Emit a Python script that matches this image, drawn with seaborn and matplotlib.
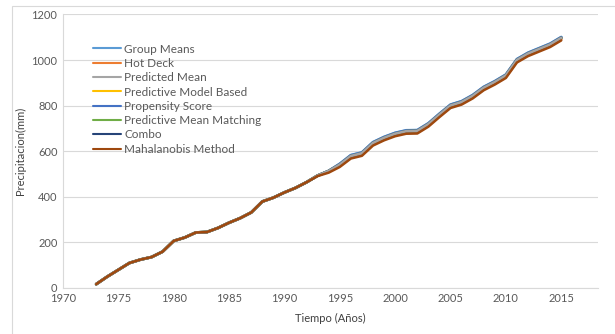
import numpy as np
import pandas as pd
import matplotlib
matplotlib.use('Agg')
import matplotlib.pyplot as plt
import seaborn as sns
from matplotlib.patches import Rectangle

# Years and imputed accumulated precipitation (mm), one list per method
years = list(range(1973, 2016))

group_means = [15, 48, 78, 108, 123, 134, 158, 205, 220, 242, 244, 262, 285, 305, 330, 378, 395, 418, 438, 463,
               492, 512, 544, 582, 594, 639, 662, 680, 691, 692, 722, 764, 804, 819, 846, 882, 907, 936, 1004, 1032,
               1052, 1072, 1101]
hot_deck = [15, 48, 78, 108, 123, 134, 158, 205, 220, 242, 244, 262, 285, 305, 330, 378, 395, 418, 438, 463,
            492, 511, 536, 573, 585, 630, 652, 670, 681, 682, 712, 754, 794, 809, 836, 872, 897, 926, 994, 1022,
            1042, 1062, 1091]
predicted_mean = [15, 48, 78, 108, 123, 134, 158, 205, 220, 242, 244, 262, 285, 305, 330, 378, 395, 418, 438, 463,
                  492, 512, 540, 578, 590, 635, 658, 676, 687, 688, 718, 760, 800, 815, 842, 878, 903, 932, 1000,
                  1028, 1048, 1068, 1097]
predictive_model = [15, 48, 78, 108, 123, 134, 158, 205, 220, 242, 244, 262, 285, 305, 330, 378, 395, 418, 438, 463,
                    492, 512, 540, 578, 590, 635, 658, 676, 687, 688, 718, 760, 800, 815, 842, 878, 903, 932, 1000,
                    1028, 1048, 1068, 1097]
propensity = [15, 48, 78, 108, 123, 134, 158, 205, 220, 242, 244, 262, 285, 305, 330, 378, 395, 418, 438, 463,
              492, 513, 543, 581, 593, 638, 661, 679, 690, 691, 721, 763, 803, 818, 845, 881, 906, 935, 1003, 1031,
              1051, 1071, 1100]
pmm = [15, 48, 78, 108, 123, 134, 158, 205, 220, 242, 244, 262, 285, 305, 330, 378, 395, 418, 438, 463,
       492, 512, 540, 578, 590, 635, 658, 676, 687, 688, 718, 760, 800, 815, 842, 878, 903, 932, 1000,
       1028, 1048, 1068, 1097]
combo = [15, 48, 78, 108, 123, 134, 158, 205, 220, 242, 244, 262, 285, 305, 330, 378, 395, 418, 438, 463,
         492, 512, 540, 578, 590, 635, 658, 676, 687, 688, 718, 760, 800, 815, 842, 878, 903, 932, 1000,
         1028, 1048, 1068, 1097]
mahalanobis = [15, 48, 78, 108, 123, 134, 158, 205, 220, 242, 244, 262, 285, 305, 330, 378, 395, 418, 438, 463,
               490, 505, 530, 567, 579, 624, 647, 665, 676, 677, 707, 749, 789, 804, 831, 867, 892, 921, 989, 1017,
               1037, 1057, 1086]

methods = ["Group Means", "Hot Deck", "Predicted Mean", "Predictive Model Based",
           "Propensity Score", "Predictive Mean Matching", "Combo", "Mahalanobis Method"]
series = [group_means, hot_deck, predicted_mean, predictive_model, propensity, pmm, combo, mahalanobis]
colors = ["#5B9BD5", "#ED7D31", "#A5A5A5", "#FFC000", "#4472C4", "#70AD47", "#264478", "#9E480E"]

x_ticks = list(range(1970, 2016, 5))
y_ticks = list(range(0, 1201, 200))

df = pd.concat([pd.DataFrame({"year": years, "value": v, "method": m}) for m, v in zip(methods, series)])

sns.set_theme(style="white")
plt.rcParams['font.family'] = ['Lato', 'DejaVu Sans']

fig = plt.figure(figsize=(6.15, 3.34), dpi=100)
ax = fig.add_axes([0.1024, 0.139, 0.8696, 0.8176])

sns.lineplot(data=df, x="year", y="value", hue="method", hue_order=methods,
             palette=colors, linewidth=2.0, ax=ax, legend=True)

# brown series on top early on, grey shows above it where they split
for line, m in zip(ax.get_lines(), methods):
    if m == "Predicted Mean":
        line.set_zorder(3)
    if m == "Mahalanobis Method":
        line.set_zorder(3.1)
        line.set_linewidth(1.8)

ax.set_xlim(1970, 2018.3)
ax.set_ylim(0, 1200)
ax.set_xticks(x_ticks)
ax.set_yticks(y_ticks)
ax.tick_params(axis='both', labelsize=8, colors="#595959", length=0, pad=4)
ax.grid(axis='y', color="#D9D9D9", linewidth=0.8)
ax.set_axisbelow(True)
for side in ["top", "right"]:
    ax.spines[side].set_visible(False)
ax.spines["left"].set_color("#D9D9D9")
ax.spines["bottom"].set_color("#D9D9D9")
ax.spines["left"].set_linewidth(0.8)
ax.spines["bottom"].set_linewidth(0.8)

ax.set_xlabel("Tiempo (Años)", fontsize=8, color="#404040", labelpad=6)
ax.set_ylabel("Precipitacion(mm)", fontsize=8, color="#404040", labelpad=4)

handles, labels = ax.get_legend_handles_labels()
for h in handles:
    h.set_linewidth(1.5)
ax.legend(handles, labels, loc="upper left", bbox_to_anchor=(0.045, 0.915), frameon=False,
          fontsize=8.5, labelcolor="#595959", handlelength=2.4, handletextpad=0.25,
          labelspacing=0.28, borderpad=0)

# chart border
fig.patches.append(Rectangle((12 / 615, -0.05), 1.2, 1 - 6 / 334 + 0.05, transform=fig.transFigure,
                             fill=False, edgecolor="#D9D9D9", linewidth=0.8))

fig.savefig("out.png", dpi=100)
